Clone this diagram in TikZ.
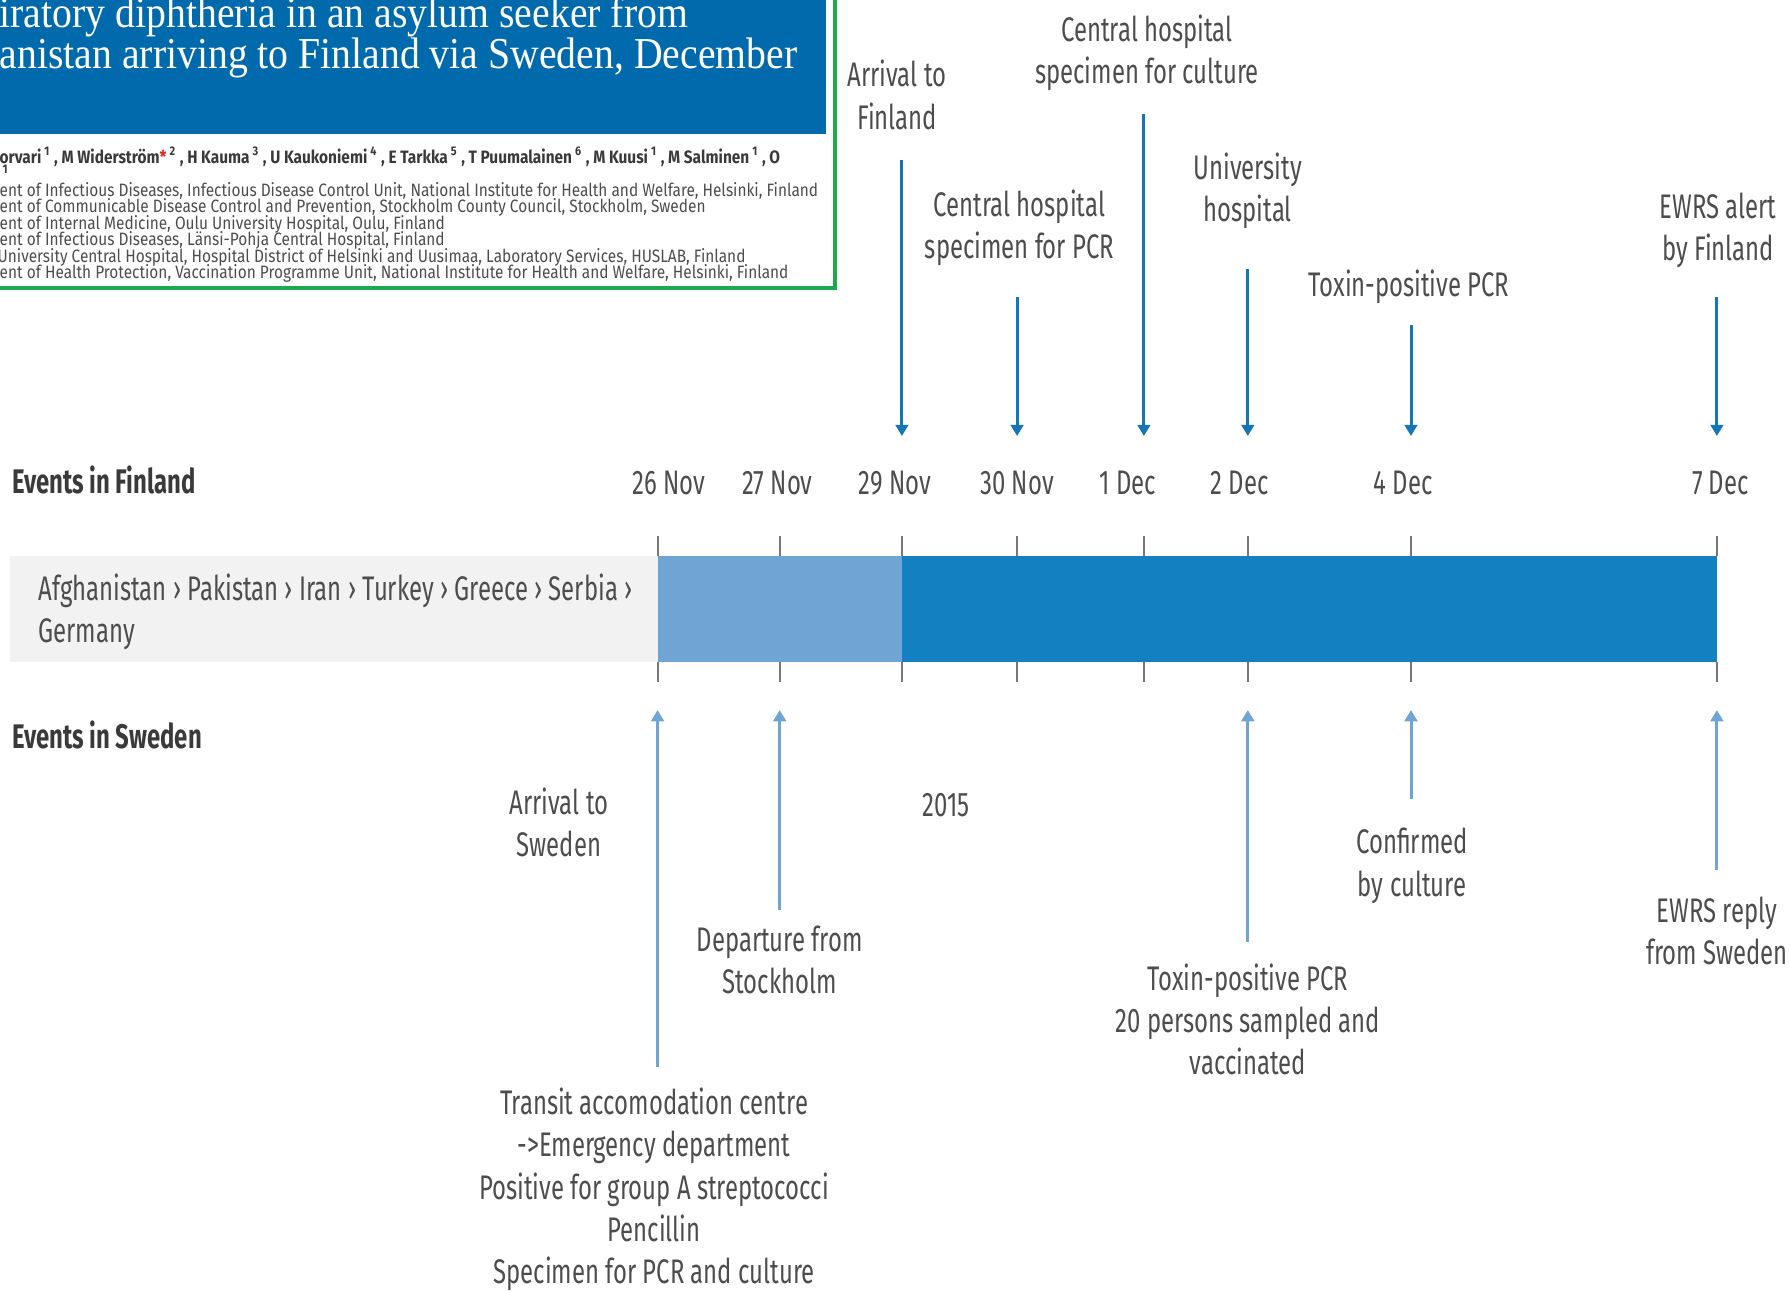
\documentclass[tikz,border=0pt]{standalone}
\usepackage{fontspec}
\setmainfont{Fira Sans}[FakeStretch=0.7]
\newfontfamily\titlefont{Liberation Serif}[FakeStretch=0.9]
\newfontfamily\smallfont{Fira Sans}[FakeStretch=0.86]
\usetikzlibrary{arrows.meta}
\definecolor{headblue}{HTML}{006AAC}
\definecolor{framegreen}{HTML}{1DAA4B}
\definecolor{barblue}{HTML}{1280C1}
\definecolor{arrblue}{HTML}{1476B9}
\definecolor{lightblue}{HTML}{6FA4D4}
\definecolor{bargray}{HTML}{F2F2F2}
\definecolor{tickgray}{HTML}{777777}
\definecolor{txtgray}{HTML}{4D4D4D}
\definecolor{headgray}{HTML}{3A3A3A}
\definecolor{starred}{HTML}{E2231A}
\newcommand{\supno}[1]{\,\textsuperscript{#1}\,}
\begin{document}
\begin{tikzpicture}[x=0.01cm,y=-0.01cm,
    lbl/.style={align=center,text=txtgray,inner sep=0pt,font=\fontsize{9.7}{12}\selectfont},
    heading/.style={anchor=west,inner sep=0pt,text=headgray,font=\fontsize{9.7}{12}\selectfont\bfseries},
    ttl/.style={anchor=base west,inner sep=0pt,text=white,font=\titlefont\fontsize{12.55}{12.55}\selectfont},
    affil/.style={anchor=base west,inner sep=0pt,text=txtgray,font=\smallfont\fontsize{5.1}{5.1}\selectfont},
    authors/.style={affil,text=headgray,font=\smallfont\fontsize{5.1}{5.1}\selectfont\bfseries},
    tick/.style={draw=tickgray,line width=0.6pt},
    finarr/.style={draw=arrblue,line width=0.85pt,-{Triangle[width=3.6pt,length=3.2pt]}},
    swearr/.style={draw=lightblue,line width=0.85pt,-{Triangle[width=3.6pt,length=3.2pt]}}]
  \useasboundingbox (0,0) rectangle (1790,1290);
  \clip (0,0) rectangle (1790,1290);

  % article header
  \fill[headblue] (0,0) rectangle (826,134);
  \draw[framegreen,line width=1.3pt] (835,-5) -- (835,288) -- (-5,288);
  \node[ttl] (t1) at (-1,27) {iratory diphtheria in an asylum seeker from};
  \node[ttl] (t2) at (-1,68) {anistan arriving to Finland via Sweden, December};
  \node[authors] (au) at (-1,163)
    {orvari\supno{1}, M Widerstr\"om\textcolor{starred}{*}\supno{2}, H Kauma\supno{3}, U Kaukoniemi\supno{4}, E Tarkka\supno{5}, T Puumalainen\supno{6}, M Kuusi\supno{1}, M Salminen\supno{1}, O};
  \node[authors] (au2) at (2,181) {\textsuperscript{1}};
  \node[affil] (af1) at (-1,196.3) {ent of Infectious Diseases, Infectious Disease Control Unit, National Institute for Health and Welfare, Helsinki, Finland};
  \node[affil] (af2) at (-1,212.5) {ent of Communicable Disease Control and Prevention, Stockholm County Council, Stockholm, Sweden};
  \node[affil] (af3) at (-1,229.5) {ent of Internal Medicine, Oulu University Hospital, Oulu, Finland};
  \node[affil] (af4) at (-1,245.5) {ent of Infectious Diseases, L\"ansi-Pohja Central Hospital, Finland};
  \node[affil] (af5) at (-3,262.5) {University Central Hospital, Hospital District of Helsinki and Uusimaa, Laboratory Services, HUSLAB, Finland};
  \node[affil] (af6) at (-1,278.5) {ent of Health Protection, Vaccination Programme Unit, National Institute for Health and Welfare, Helsinki, Finland};

  % timeline bar
  \fill[bargray] (10,556) rectangle (657.6,662);
  \fill[lightblue] (657.6,556) rectangle (901.9,662);
  \fill[barblue] (901.9,556) rectangle (1716.9,662);
  \node[lbl,align=left,anchor=west] (route) at (37.7,612)
    {Afghanistan › Pakistan › Iran › Turkey › Greece › Serbia ›\\Germany};
  \foreach \n/\x in {k1/657.6,k2/779.7,k3/901.9,k4/1017.1,k5/1143.9,k6/1247.8,k7/1411.0,k8/1716.9}{
    \coordinate (\n) at (\x,556);
    \draw[tick] (\x,536) -- (\x,556) (\x,662) -- (\x,682);
  }

  \node[heading] (fin) at (11.4,479.5) {Events in Finland};
  \node[heading] (swe) at (11.4,735) {Events in Sweden};

  \draw
    (669,483) node[lbl] (d1) {26 Nov}
    (777.4,483) node[lbl] (d2) {27 Nov}
    (895,483) node[lbl] (d3) {29 Nov}
    (1017,483) node[lbl] (d4) {30 Nov}
    (1128,483) node[lbl] (d5) {1 Dec}
    (1239.8,483) node[lbl] (d6) {2 Dec}
    (1403,483) node[lbl] (d7) {4 Dec}
    (1720.4,483) node[lbl] (d8) {7 Dec};

  % events in Finland
  \draw
    (897,94.8) node[lbl] (f1) {Arrival to\\Finland}
    (1019.5,227.7) node[lbl] (f2) {Central hospital\\specimen for PCR}
    (1147,53) node[lbl] (f3) {Central hospital\\specimen for culture}
    (1247.8,191.2) node[lbl] (f4) {University\\hospital}
    (1409,286.5) node[lbl] (f5) {Toxin-positive PCR}
    (1718,230) node[lbl] (f6) {EWRS alert\\by Finland};
  \coordinate (ftip) at (0,436);
  \coordinate (fa1) at (901.9,160);
  \coordinate (fa2) at (1017.1,297);
  \coordinate (fa3) at (1143.9,114);
  \coordinate (fa4) at (1247.8,269);
  \coordinate (fa5) at (1411.0,325);
  \coordinate (fa6) at (1716.9,297);
  \begin{scope}[finarr]
    \foreach \a in {fa1,fa2,fa3,fa4,fa5,fa6}
      \draw (\a) -- (\a |- ftip);
  \end{scope}

  % events in Sweden
  \draw
    (559,822.5) node[lbl] (s1) {Arrival to\\Sweden}
    (654,1189.5) node[lbl] (s2) {Transit accomodation centre\\->Emergency department\\Positive for group A streptococci\\Pencillin\\Specimen for PCR and culture}
    (779.7,959.5) node[lbl] (s3) {Departure from\\Stockholm}
    (946.4,804.8) node[lbl] (yr) {2015}
    (1247.8,1019.4) node[lbl] (s4) {Toxin-positive PCR\\20 persons sampled and\\vaccinated}
    (1412,865.9) node[lbl] (s5) {Confirmed\\by culture}
    (1717,931) node[lbl] (s6) {EWRS reply\\from Sweden};
  \coordinate (stip) at (0,710);
  \coordinate (sa1) at (657.6,1067);
  \coordinate (sa2) at (779.7,910);
  \coordinate (sa3) at (1247.8,942);
  \coordinate (sa4) at (1411.0,799);
  \coordinate (sa5) at (1716.9,870);
  \begin{scope}[swearr]
    \foreach \a in {sa1,sa2,sa3,sa4,sa5}
      \draw (\a) -- (\a |- stip);
  \end{scope}
\end{tikzpicture}
\end{document}
